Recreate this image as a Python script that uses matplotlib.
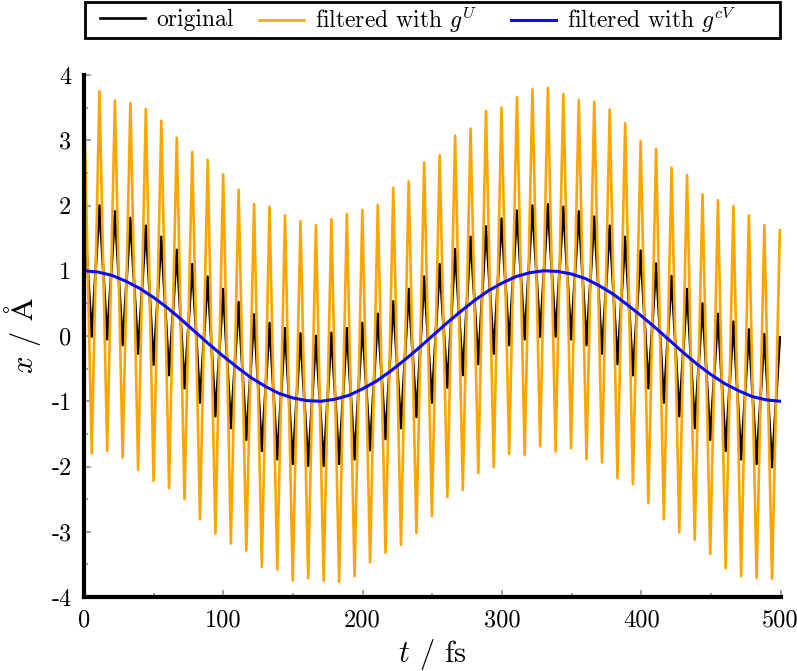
import numpy as np
import matplotlib.pyplot as plt
from matplotlib.patches import Rectangle
from matplotlib.ticker import MultipleLocator

plt.rcParams['font.family'] = ['cmr10', 'DejaVu Serif']
plt.rcParams['mathtext.fontset'] = 'cm'
plt.rcParams['axes.formatter.use_mathtext'] = True

# Extrema of the fast oscillation, read every half period (5.55 fs)
half_period = 5.55

original = [
    2.00, -0.01, 2.00, -0.05, 1.91, -0.14, 1.81, -0.27, 1.69, -0.44,
    1.52, -0.60, 1.32, -0.80, 1.10, -1.02, 0.91, -1.23, 0.72, -1.41,
    0.52, -1.59, 0.33, -1.76, 0.20, -1.89, 0.12, -1.96, 0.04, -1.99,
    0.00, -1.99, 0.05, -1.96, 0.12, -1.89, 0.20, -1.75, 0.34, -1.58,
    0.53, -1.41, 0.72, -1.24, 0.91, -1.02, 1.10, -0.79, 1.33, -0.60,
    1.52, -0.43, 1.68, -0.27, 1.80, -0.14, 1.92, -0.05, 2.00, -0.01,
    2.02, -0.01, 1.98, -0.05, 1.91, -0.14, 1.83, -0.27, 1.69, -0.43,
    1.52, -0.60, 1.31, -0.80, 1.11, -1.02, 0.92, -1.23, 0.72, -1.41,
    0.50, -1.59, 0.34, -1.76, 0.22, -1.89, 0.10, -1.96, 0.03, -2.01,
    -0.02,
]

filtered_u = [
    3.68, -1.80, 3.75, -1.76, 3.61, -1.86, 3.57, -2.05, 3.48, -2.22,
    3.30, -2.33, 3.04, -2.50, 2.82, -2.81, 2.70, -3.03, 2.48, -3.18,
    2.24, -3.29, 2.02, -3.54, 1.98, -3.58, 1.85, -3.75, 1.76, -3.71,
    1.70, -3.75, 1.79, -3.77, 1.87, -3.68, 1.93, -3.47, 2.01, -3.32,
    2.27, -3.20, 2.37, -3.02, 2.66, -2.76, 2.77, -2.47, 3.07, -2.36,
    3.18, -2.10, 3.45, -2.01, 3.50, -1.81, 3.66, -1.82, 3.78, -1.69,
    3.80, -1.77, 3.71, -1.72, 3.62, -1.89, 3.59, -1.94, 3.47, -2.18,
    3.26, -2.27, 2.99, -2.56, 2.87, -2.81, 2.58, -3.01, 2.47, -3.12,
    2.17, -3.34, 2.08, -3.56, 1.99, -3.68, 1.85, -3.71, 1.70, -3.72,
    1.62,
]

# Smooth filtered signal, read every 10 fs
t_cv = [float(v) for v in range(0, 510, 10)]
filtered_cv = [
    1.00, 0.98, 0.93, 0.84, 0.73, 0.59, 0.43, 0.25, 0.06, -0.13,
    -0.31, -0.48, -0.64, -0.77, -0.88, -0.95, -0.99, -1.00, -0.97, -0.91,
    -0.81, -0.69, -0.54, -0.37, -0.19, 0.00, 0.19, 0.37, 0.54, 0.69,
    0.81, 0.91, 0.97, 1.00, 0.99, 0.95, 0.88, 0.77, 0.64, 0.48,
    0.31, 0.13, -0.06, -0.25, -0.43, -0.59, -0.73, -0.84, -0.93, -0.98,
    -1.00,
]

t_ext = np.arange(len(original)) * half_period

W, H = 797, 671
fig = plt.figure(figsize=(W / 100, H / 100), dpi=100)
ax = fig.add_axes([84 / W, 1 - 597 / H, 696.5 / W, 522 / H])

l1, = ax.plot(t_ext, original, color='black', lw=1.9)
l2, = ax.plot(t_ext, filtered_u, color='#ffa500', lw=1.9)
l3, = ax.plot(t_cv, filtered_cv, color='#0a0aff', lw=2.2)

ax.set_xlim(0, 500)
ax.set_ylim(-4, 4)

ax.set_xticks(range(0, 501, 100))
ax.set_xticklabels([str(v) for v in range(0, 501, 100)])
ax.set_yticks(range(-4, 5))
ax.set_yticklabels([str(v) for v in range(-4, 5)])
ax.xaxis.set_minor_locator(MultipleLocator(50))
ax.yaxis.set_minor_locator(MultipleLocator(0.5))
ax.tick_params(which='both', direction='in', color='#888888', width=1.1,
               labelsize=17.5, top=False, right=False)
ax.tick_params(which='major', length=5, pad=9)
ax.tick_params(which='minor', length=3)

for side in ['top', 'right']:
    ax.spines[side].set_visible(False)
for side in ['left', 'bottom']:
    ax.spines[side].set_linewidth(3)

ax.set_xlabel('$t$ / fs', fontsize=22, labelpad=4)
ax.set_ylabel('$x$ / $\\mathrm{\\AA}$', fontsize=22, labelpad=6)

# Legend row above the axes: one entry per box, shared frame
entries = [
    (l1, 'original', 100),
    (l2, 'filtered with $g^U$', 259),
    (l3, 'filtered with $g^{cV}$', 511),
]
for line, label, x0 in entries:
    leg = fig.legend([line], [label], loc='center left',
                     bbox_to_anchor=(x0 / W, 1 - 20 / H),
                     fontsize=17, frameon=False, borderpad=0,
                     borderaxespad=0, handlelength=1.9,
                     handletextpad=0.47)
fig.patches.append(Rectangle((85 / W, 1 - 38 / H), 695 / W, 36 / H,
                             transform=fig.transFigure, fill=False,
                             lw=2, ec='black'))

fig.savefig('out.png', dpi=100)
